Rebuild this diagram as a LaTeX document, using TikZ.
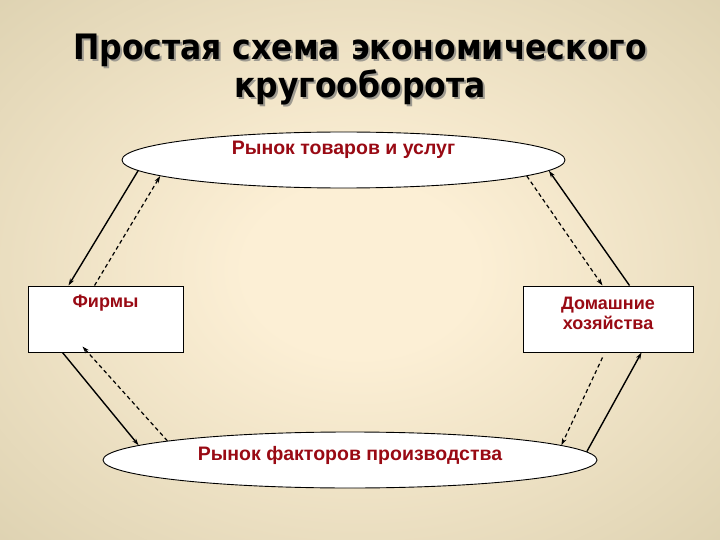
\documentclass[tikz,border=0pt]{standalone}
\usepackage{fontspec}
\setmainfont{Liberation Sans}
\newfontfamily\titlefont{DejaVu Sans Condensed}
\usetikzlibrary{arrows.meta, shapes.geometric}
\definecolor{bgcenter}{HTML}{FCEFD5}
\definecolor{bgedge}{HTML}{CFC4A0}
\definecolor{bgcorner}{HTML}{CBC09B}
\definecolor{darkred}{HTML}{990A14}
\definecolor{shadowgray}{HTML}{9E9A90}
\pgfdeclareradialshading{slidebg}{\pgfpoint{0bp}{0bp}}{color(0bp)=(bgcenter); color(8bp)=(bgcenter); color(50bp)=(bgedge); color(72bp)=(bgcorner)}

\begin{document}
\begin{tikzpicture}[x=1pt, y=-1pt,
  >={Stealth[length=7pt, width=4.5pt]},
  market/.style={ellipse, draw=black, line width=0.9pt, fill=white, inner sep=0pt},
  agent/.style={rectangle, draw=black, line width=1pt, fill=white, inner sep=0pt, minimum height=66pt},
  caption/.style={text=darkred, align=center, font=\bfseries\fontsize{18}{20}\selectfont},
  titletext/.style={align=center, font=\titlefont\bfseries\fontsize{35}{38}\selectfont},
  goods/.style={->, line width=1.4pt},
  money/.style={->, line width=1.2pt, dash pattern=on 4pt off 3pt}]

% Background
\shade[shading=slidebg] (0,0) rectangle (720,540);
\useasboundingbox (0,0) rectangle (720,540);

% Title (with shadow)
\node[titletext, text=shadowgray] (titleshadow) at (362,72) {Простая схема экономического\\кругооборота};
\node[titletext, text=black] (title) at (360,70) {Простая схема экономического\\кругооборота};

% Markets
\node[market, minimum width=443pt, minimum height=56pt,
  label={[caption, anchor=center, yshift=10pt, font=\bfseries\fontsize{19.5}{22}\selectfont]center:Рынок товаров и услуг}]
  (goodsmkt) at (343.5,160) {};
\node[market, minimum width=494pt, minimum height=56pt,
  label={[caption, anchor=center, yshift=5pt, font=\bfseries\fontsize{19.5}{22}\selectfont]center:Рынок факторов производства}]
  (factormkt) at (350,460) {};

% Firms and households
\node[agent, minimum width=155pt,
  label={[caption, anchor=north, yshift=-6pt]north:Фирмы}]
  (firms) at (105.5,319) {};
\node[agent, minimum width=170pt,
  label={[caption, anchor=north, yshift=-8pt]north:Домашние\\хозяйства}]
  (households) at (608,319) {};

% Flows, upper half
\draw[goods] (goodsmkt.183) -- ([xshift=41pt]firms.north west);
\draw[money] ([xshift=67pt]firms.north west) -- (goodsmkt.185);
\draw[money] (goodsmkt.355.2) -- ([xshift=80pt]households.north west);
\draw[goods] ([xshift=107pt]households.north west) -- (goodsmkt.357.4);

% Flows, lower half
\draw[goods] ([xshift=35pt]firms.south west) -- (factormkt.176.7);
\draw[money] (factormkt.174.5) -- ([xshift=55pt, yshift=6pt]firms.south west);
\draw[money] ([xshift=80pt, yshift=-5pt]households.south west) -- (factormkt.4.9);
\draw[goods] (factormkt.2.95) -- ([xshift=119pt]households.south west);

\end{tikzpicture}
\end{document}
